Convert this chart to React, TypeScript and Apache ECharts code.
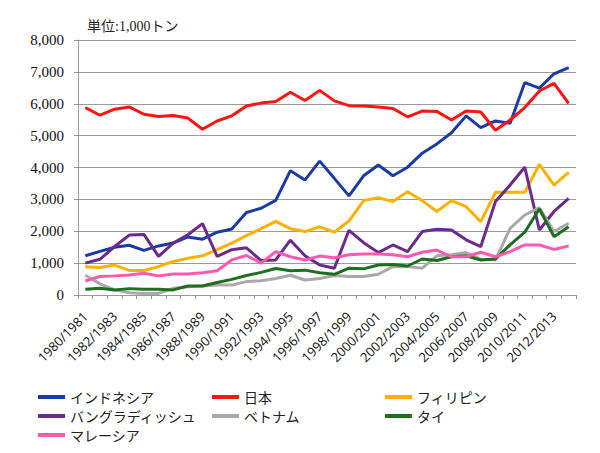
import React, { useEffect, useRef } from "react";
import * as echarts from "echarts";

const years: string[] = [];
for (let y = 1980; y <= 2013; y++) years.push(`${y}/${y + 1}`);

const indonesia = [1230, 1370, 1500, 1560, 1400, 1540, 1630, 1820, 1750, 1970, 2070, 2590, 2720, 2970, 3900, 3610, 4200, 3660, 3110, 3740, 4080, 3740, 4010, 4450, 4740, 5090, 5620, 5250, 5460, 5390, 6660, 6490, 6940, 7130];
const japan = [5880, 5640, 5830, 5900, 5670, 5600, 5630, 5550, 5200, 5460, 5620, 5930, 6020, 6070, 6360, 6100, 6420, 6090, 5940, 5930, 5900, 5850, 5590, 5770, 5760, 5490, 5770, 5740, 5170, 5490, 5880, 6400, 6640, 6010];
const philippines = [890, 860, 940, 770, 770, 890, 1050, 1150, 1230, 1420, 1630, 1860, 2080, 2310, 2080, 1990, 2140, 1970, 2320, 2960, 3050, 2930, 3240, 2960, 2620, 2960, 2770, 2300, 3220, 3220, 3220, 4100, 3450, 3850];
const bangladesh = [1000, 1120, 1520, 1880, 1900, 1210, 1630, 1890, 2240, 1210, 1420, 1480, 1080, 1100, 1720, 1230, 940, 840, 2030, 1640, 1330, 1570, 1360, 1990, 2060, 2040, 1730, 1520, 2930, 3450, 4010, 2040, 2620, 3030];
const vietnam = [620, 350, 160, 70, 50, 50, 210, 260, 280, 310, 310, 420, 450, 520, 620, 470, 520, 610, 580, 580, 650, 890, 890, 840, 1230, 1260, 1330, 1120, 1100, 2090, 2510, 2740, 1990, 2250];
const thailand = [180, 210, 160, 200, 180, 180, 160, 280, 280, 390, 490, 610, 710, 830, 760, 780, 700, 650, 840, 820, 940, 960, 910, 1130, 1080, 1200, 1230, 1100, 1130, 1570, 1970, 2700, 1830, 2140];
const malaysia = [440, 580, 600, 630, 680, 600, 660, 660, 700, 760, 1100, 1240, 1000, 1360, 1200, 1100, 1220, 1170, 1260, 1290, 1290, 1260, 1200, 1340, 1410, 1200, 1200, 1340, 1200, 1360, 1570, 1570, 1430, 1540];

const seriesDefs = [
  { name: "インドネシア", data: indonesia, color: "#1c3aa6" },
  { name: "日本", data: japan, color: "#ff1414" },
  { name: "フィリピン", data: philippines, color: "#ffb000" },
  { name: "バングラディッシュ", data: bangladesh, color: "#6b2a8c" },
  { name: "ベトナム", data: vietnam, color: "#a9a9a9" },
  { name: "タイ", data: thailand, color: "#1d6e1d" },
  { name: "マレーシア", data: malaysia, color: "#ff5ab0" },
];

const legendFont = { fontSize: 14, color: "#222", fontFamily: "'Noto Sans CJK JP', sans-serif", lineHeight: 16 };
const legendBase = {
  orient: "vertical" as const,
  top: 389,
  icon: "rect",
  itemWidth: 27,
  itemHeight: 4,
  itemGap: 3,
  padding: 0,
  textStyle: legendFont,
};

export default function App() {
  const ref = useRef<HTMLDivElement>(null);
  useEffect(() => {
    if (!ref.current) return;
    const chart = echarts.init(ref.current, null, { renderer: "svg" });
    chart.setOption({
      animation: false,
      backgroundColor: "#fff",
      title: {
        text: "単位:1,000トン",
        left: 82,
        top: 14,
        textStyle: { fontSize: 14, fontWeight: "normal", color: "#222", fontFamily: "'Liberation Serif', 'Noto Sans CJK JP', serif" },
      },
      grid: { left: 78, right: 24, top: 40, bottom: 158, containLabel: false },
      legend: [
        { ...legendBase, left: 38, data: ["インドネシア", "バングラディッシュ", "マレーシア"] },
        { ...legendBase, left: 212, data: ["日本", "ベトナム"] },
        { ...legendBase, left: 385, data: ["フィリピン", "タイ"] },
      ],
      xAxis: {
        type: "category",
        data: years,
        boundaryGap: true,
        axisLine: { lineStyle: { color: "#999", width: 1 } },
        axisTick: { show: true, interval: 0, length: 4, lineStyle: { color: "#999" } },
        axisLabel: {
          interval: 1,
          rotate: 45,
          fontSize: 13,
          color: "#111",
          margin: 19,
          fontFamily: "'Open Sans', 'Liberation Sans', sans-serif",
        },
      },
      yAxis: {
        type: "value",
        min: 0,
        max: 8000,
        interval: 1000,
        axisLine: { show: true, lineStyle: { color: "#999", width: 1 } },
        axisTick: { show: true, length: 4, lineStyle: { color: "#999" } },
        splitLine: { lineStyle: { color: "#9a9a9a", width: 1 } },
        axisLabel: {
          fontSize: 15,
          color: "#111",
          margin: 14,
          fontFamily: "'Liberation Serif', serif",
          formatter: (v: number) => v.toLocaleString("en-US"),
        },
      },
      series: seriesDefs.map((s) => ({
        name: s.name,
        type: "line",
        data: s.data,
        symbol: "none",
        color: s.color,
        lineStyle: { width: 3, color: s.color },
      })),
    });
    return () => chart.dispose();
  }, []);
  return <div ref={ref} style={{ width: 600, height: 453, position: "absolute", left: 0, top: 0 }} />;
}
